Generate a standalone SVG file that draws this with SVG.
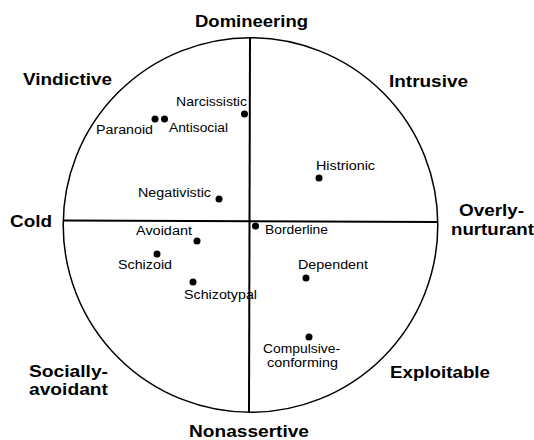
<svg xmlns="http://www.w3.org/2000/svg" width="534" height="440" viewBox="0 0 534 440">
<style>
.ax{font-family:"Liberation Sans",Arial,sans-serif;font-weight:bold;font-size:17px;fill:#000}
.lb{font-family:"Liberation Sans",Arial,sans-serif;font-size:12px;fill:#000}
.dot{fill:#000}
.ln{stroke:#000;fill:none}
</style>
<rect width="534" height="440" fill="#fff"/>
<g id="frame">
<circle class="ln" cx="250.5" cy="225" r="187.3" stroke-width="1.5"/>
</g>
<g id="connectors">
<line class="ln" x1="250" y1="37.5" x2="249" y2="412.5" stroke-width="2"/>
<line class="ln" x1="63.5" y1="220.5" x2="437.5" y2="222" stroke-width="2"/>
</g>
<g id="axis-labels">
<text id="domineering" class="ax" x="195" y="27" textLength="113" lengthAdjust="spacingAndGlyphs">Domineering</text>
<text id="intrusive" class="ax" x="389" y="87" textLength="79" lengthAdjust="spacingAndGlyphs">Intrusive</text>
<text id="vindictive" class="ax" x="23" y="85" textLength="89" lengthAdjust="spacingAndGlyphs">Vindictive</text>
<text id="cold" class="ax" x="10" y="227" textLength="42" lengthAdjust="spacingAndGlyphs">Cold</text>
<g id="overly-nurturant">
<text class="ax" x="459" y="216" textLength="65" lengthAdjust="spacingAndGlyphs">Overly-</text>
<text class="ax" x="451" y="235" textLength="83" lengthAdjust="spacingAndGlyphs">nurturant</text>
</g>
<g id="socially-avoidant">
<text class="ax" x="29" y="377" textLength="79" lengthAdjust="spacingAndGlyphs">Socially-</text>
<text class="ax" x="29" y="395" textLength="79" lengthAdjust="spacingAndGlyphs">avoidant</text>
</g>
<text id="exploitable" class="ax" x="390" y="378" textLength="100" lengthAdjust="spacingAndGlyphs">Exploitable</text>
<text id="nonassertive" class="ax" x="189" y="437" textLength="120" lengthAdjust="spacingAndGlyphs">Nonassertive</text>
</g>
<g id="narcissistic"><circle class="dot" cx="244.5" cy="114" r="3.5"/><text class="lb" x="176" y="106" textLength="71" lengthAdjust="spacingAndGlyphs">Narcissistic</text></g>
<g id="paranoid"><circle class="dot" cx="155" cy="119" r="3.5"/><text class="lb" x="96" y="134" textLength="57" lengthAdjust="spacingAndGlyphs">Paranoid</text></g>
<g id="antisocial"><circle class="dot" cx="164.5" cy="119" r="3.5"/><text class="lb" x="169" y="132" textLength="59" lengthAdjust="spacingAndGlyphs">Antisocial</text></g>
<g id="histrionic"><circle class="dot" cx="319" cy="178" r="3.5"/><text class="lb" x="316" y="170" textLength="59" lengthAdjust="spacingAndGlyphs">Histrionic</text></g>
<g id="negativistic"><circle class="dot" cx="219" cy="199" r="3.5"/><text class="lb" x="138" y="197" textLength="73" lengthAdjust="spacingAndGlyphs">Negativistic</text></g>
<g id="borderline"><circle class="dot" cx="255.5" cy="226" r="3.5"/><text class="lb" x="265" y="234" textLength="63" lengthAdjust="spacingAndGlyphs">Borderline</text></g>
<g id="avoidant"><circle class="dot" cx="197" cy="241" r="3.5"/><text class="lb" x="136" y="235" textLength="56" lengthAdjust="spacingAndGlyphs">Avoidant</text></g>
<g id="schizoid"><circle class="dot" cx="157" cy="254" r="3.5"/><text class="lb" x="118" y="269" textLength="54" lengthAdjust="spacingAndGlyphs">Schizoid</text></g>
<g id="schizotypal"><circle class="dot" cx="193" cy="282" r="3.5"/><text class="lb" x="184" y="299" textLength="73" lengthAdjust="spacingAndGlyphs">Schizotypal</text></g>
<g id="dependent"><circle class="dot" cx="306" cy="278" r="3.5"/><text class="lb" x="298" y="269" textLength="70" lengthAdjust="spacingAndGlyphs">Dependent</text></g>
<g id="compulsive-conforming"><circle class="dot" cx="309" cy="337" r="3.5"/>
<text class="lb" x="263" y="353" textLength="77" lengthAdjust="spacingAndGlyphs">Compulsive-</text>
<text class="lb" x="267" y="367" textLength="71" lengthAdjust="spacingAndGlyphs">conforming</text></g>
</svg>
